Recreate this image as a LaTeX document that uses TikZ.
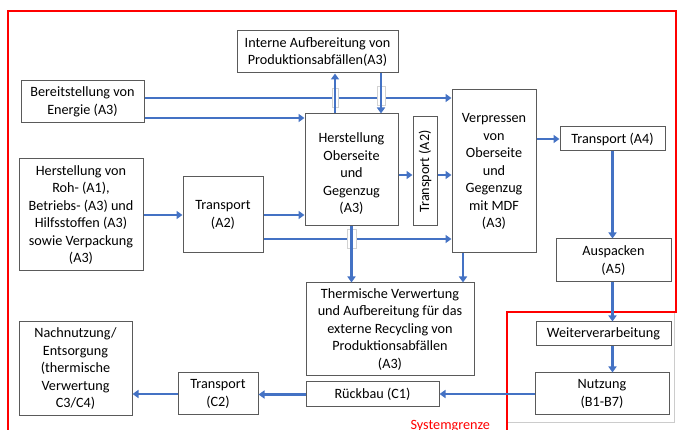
\documentclass[tikz,border=0pt]{standalone}
\usepackage{fontspec}
\setmainfont{Carlito}
\usepackage{graphicx}
\usetikzlibrary{arrows.meta,calc}
\definecolor{flowblue}{RGB}{68,114,196}
\definecolor{boxgray}{RGB}{90,90,90}
\definecolor{sysred}{RGB}{255,0,0}
\begin{document}
\begin{tikzpicture}[x=1pt,y=-1pt,
  box/.style={draw=boxgray, line width=1pt, fill=white, align=center, inner sep=0pt,
    font=\fontsize{14.2}{17.5}\selectfont},
  flow/.style={draw=flowblue, line width=2.5pt, -{Triangle[length=6pt,width=8pt]}},
  bridge/.style={draw=gray!35, fill=white, line width=0.8pt, inner sep=0pt, minimum width=6pt, minimum height=19pt},
  sysline/.style={draw=sysred, line width=2.2pt}]
\useasboundingbox (0,0) rectangle (678,430);
% system boundaries
\draw[gray!40, line width=1pt] (507,312) rectangle (674,423);
\draw[sysline] (8,440) -- (8,11) -- (676,11) -- (676,312) -- (507,312) -- (507,440);
\node[text=sysred, anchor=base west, font=\fontsize{14.2}{17.5}\selectfont] (sys) at (407,430) {Systemgrenze};
% boxes
\node[box, minimum width=161, minimum height=42] (intern) at (317.5,52) {Interne Aufbereitung von\\Produktionsabfällen(A3)};
\node[box, minimum width=123, minimum height=42] (energie) at (82.5,102) {Bereitstellung von\\Energie (A3)};
\node[box, minimum width=93, minimum height=112] (herst) at (351.5,170) {\mbox{}\\Herstellung\\Oberseite\\und\\Gegenzug\\(A3)};
\node[box, minimum width=24, minimum height=109] (trv) at (425,171.5) {\rotatebox{90}{Transport (A2)}};
\node[box, minimum width=84, minimum height=163] (verp) at (494,171.5) {Verpressen\\von\\Oberseite\\und\\Gegenzug\\mit MDF\\(A3)};
\node[box, minimum width=105, minimum height=24] (tra4) at (612.5,139) {Transport (A4)};
\node[box, minimum width=124, minimum height=112] (roh) at (81,215) {Herstellung von\\Roh- (A1),\\Betriebs- (A3) und\\Hilfsstoffen (A3)\\sowie Verpackung\\(A3)};
\node[box, minimum width=80, minimum height=76] (tra2) at (223,215) {Transport\\(A2)};
\node[box, minimum width=115, minimum height=43] (ausp) at (613.5,260.5) {Auspacken\\(A5)};
\node[box, minimum width=168, minimum height=93] (therm) at (390,329.5) {Thermische Verwertung\\und Aufbereitung für das\\externe Recycling von\\Produktionsabfällen\\(A3)};
\node[box, minimum width=135, minimum height=24] (weiter) at (603.5,334) {Weiterverarbeitung};
\node[box, minimum width=134, minimum height=42] (nutz) at (602,394) {Nutzung\\(B1-B7)};
\node[box, minimum width=133, minimum height=25] (rueck) at (372.5,394.5) {Rückbau (C1)};
\node[box, minimum width=80, minimum height=42] (trc2) at (218,394) {Transport\\(C2)};
\node[box, minimum width=113, minimum height=94] (nach) at (75.5,369) {Nachnutzung/\\Entsorgung\\(thermische\\Verwertung\\C3/C4)};
% energy lines
\coordinate (e1) at ([yshift=4pt]energie.east);
\coordinate (e2) at ([yshift=-16pt]energie.east);
\draw[flow] (e1) -- (e1 -| verp.west);
\draw[flow] (e2) -- (e2 -| herst.west);
% internal recycling loop with bridges
\coordinate (u1) at ([xshift=-16.5pt]herst.north);
\coordinate (d1) at ([xshift=63.5pt]intern.south);
\node[bridge] (br1) at (u1 |- e1) {};
\node[bridge, minimum width=8pt] (br2) at ([yshift=2pt]d1 |- e1) {};
\draw[flow] (u1) -- (u1 |- intern.south);
\draw[flow] (d1) -- (d1 |- herst.north);
% material flow
\draw[flow] (roh.east) -- (roh.east -| tra2.west);
\draw[flow] (tra2.east) -- (tra2.east -| herst.west);
\coordinate (t2) at ([yshift=-24pt]tra2.east);
\draw[flow] (t2) -- (t2 -| verp.west);
\coordinate (h1) at ([yshift=-5pt]herst.east);
\draw[flow] (h1) -- (h1 -| trv.west);
\draw[flow] (h1 -| trv.east) -- (h1 -| verp.west);
\node[bridge, minimum width=9pt] (br3) at (herst.south |- t2) {};
\draw[flow] (herst.south) -- (herst.south |- therm.north);
\coordinate (v1) at ([xshift=-31pt]verp.south);
\draw[flow] (v1) -- (v1 |- therm.north);
\draw[flow] (verp.east |- tra4.west) -- (tra4.west);
\coordinate (s1) at (tra4.south);
\draw[flow] (s1) -- (s1 |- ausp.north);
\draw[flow] (s1 |- ausp.south) -- (s1 |- weiter.north);
\draw[flow] (s1 |- weiter.south) -- (s1 |- nutz.north);
% end of life
\draw[flow] (nutz.west) -- (nutz.west -| rueck.east);
\draw[flow] (rueck.west) -- (rueck.west -| trc2.east);
\draw[flow] (trc2.west) -- (trc2.west -| nach.east);
\end{tikzpicture}
\end{document}
